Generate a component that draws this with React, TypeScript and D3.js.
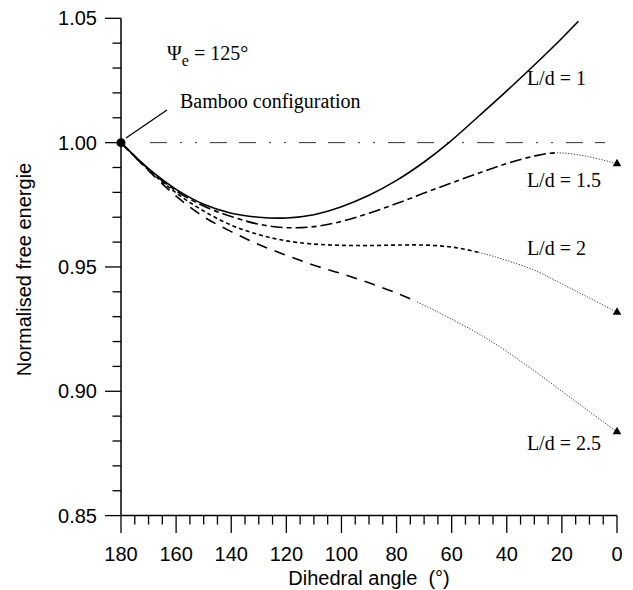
import React from "react";
import * as d3 from "d3";

// ---- data ----
const anglesLd1 = [180, 170, 160, 150, 140, 130, 120, 110, 100, 90, 80, 70, 61, 50, 40, 30, 20, 14];
const valuesLd1 = [1.0, 0.9895, 0.9812, 0.9752, 0.9716, 0.97, 0.9697, 0.971, 0.9742, 0.9788, 0.9848, 0.9922, 1.0, 1.0108, 1.0208, 1.0312, 1.042, 1.0488];

const anglesLd15 = [180, 170, 160, 150, 140, 130, 120, 110, 100, 90, 80, 70, 60, 50, 40, 30, 22, 11, 0];
const valuesLd15 = [1.0, 0.9893, 0.9806, 0.9745, 0.9703, 0.9672, 0.9658, 0.9662, 0.9683, 0.9716, 0.9755, 0.9797, 0.9838, 0.9878, 0.9916, 0.9946, 0.9959, 0.9945, 0.9915];

const anglesLd2 = [180, 170, 160, 150, 140, 130, 120, 110, 100, 90, 80, 70, 60, 50, 40, 30, 20, 10, 0];
const valuesLd2 = [1.0, 0.989, 0.9798, 0.9725, 0.9668, 0.963, 0.9605, 0.9592, 0.9587, 0.9586, 0.9588, 0.9588, 0.958, 0.9558, 0.9526, 0.9487, 0.9432, 0.9375, 0.9318];

const anglesLd25 = [180, 170, 160, 150, 140, 130, 120, 110, 100, 90, 80, 70, 60, 50, 40, 30, 20, 10, 0];
const valuesLd25 = [1.0, 0.9887, 0.9785, 0.9702, 0.9642, 0.959, 0.9547, 0.9507, 0.9473, 0.9436, 0.9395, 0.9346, 0.929, 0.923, 0.916, 0.9082, 0.9, 0.8918, 0.8837];

const seriesNames = ["L/d = 1", "L/d = 1.5", "L/d = 2", "L/d = 2.5"];
// angle below which each curve continues as a dotted extrapolation
const dottedFrom = [null, 22, 50, 73];
const labelAngles = [32.7, 32.7, 32.7, 32.7];
const labelValues = [1.0232, 0.9823, 0.9548, 0.8764];

const xMajorTicks = [180, 160, 140, 120, 100, 80, 60, 40, 20, 0];
const yMajorTicks = [0.85, 0.9, 0.95, 1.0, 1.05];
const referenceValue = 1.0;
const bambooAngle = 180;

const SANS = "'Liberation Sans', Arial, Helvetica, sans-serif";
const SERIF = "'Liberation Serif', 'Times New Roman', serif";

export default function App() {
  const x = d3.scaleLinear().domain([180, 0]).range([121, 617]);
  const y = d3.scaleLinear().domain([0.85, 1.05]).range([515.6, 18.3]);

  const series = [
    anglesLd1.map((a, i) => [a, valuesLd1[i]]),
    anglesLd15.map((a, i) => [a, valuesLd15[i]]),
    anglesLd2.map((a, i) => [a, valuesLd2[i]]),
    anglesLd25.map((a, i) => [a, valuesLd25[i]]),
  ];
  const dashes = [null, "12,4,5,4", "4,3", "11,8"];

  const line = d3
    .line<number[]>()
    .x((d) => x(d[0]))
    .y((d) => y(d[1]))
    .curve(d3.curveCatmullRom.alpha(0.5));

  const xMinor = d3.range(0, 181, 5).filter((v) => v % 20 !== 0);
  const yMinor = d3.range(85, 106, 1).map((v) => v / 100).filter((v) => Math.round(v * 100) % 5 !== 0);

  const [xl, xr] = x.range();
  const [yb, yt] = y.range();
  const tri = d3.symbol().type(d3.symbolTriangle).size(32)();

  return (
    <svg width={633} height={590} style={{ position: "absolute", left: 0, top: 0, background: "#fff" }}>
      <rect width={633} height={590} fill="#fff" />
      <defs>
        {series.map((s, i) =>
          dottedFrom[i] == null ? null : (
            <React.Fragment key={i}>
              <clipPath id={`main${i}`}>
                <rect x={0} y={0} width={x(dottedFrom[i] as number)} height={590} />
              </clipPath>
              <clipPath id={`tail${i}`}>
                <rect x={x(dottedFrom[i] as number)} y={0} width={633} height={590} />
              </clipPath>
            </React.Fragment>
          )
        )}
      </defs>

      {/* reference line */}
      <line
        x1={150}
        x2={605}
        y1={y(referenceValue)}
        y2={y(referenceValue)}
        stroke="#333"
        strokeWidth={1}
        strokeDasharray="17,13,2,13,2,13,17,12"
      />

      {/* curves */}
      {series.map((s, i) => {
        const d = line(s) || "";
        if (dottedFrom[i] == null) {
          return <path key={i} d={d} fill="none" stroke="#000" strokeWidth={1.6} />;
        }
        return (
          <g key={i}>
            <path
              d={d}
              fill="none"
              stroke="#000"
              strokeWidth={1.6}
              strokeDasharray={dashes[i] as string}
              clipPath={`url(#main${i})`}
            />
            <path
              d={d}
              fill="none"
              stroke="#222"
              strokeWidth={0.9}
              strokeDasharray="1.2,1.6"
              clipPath={`url(#tail${i})`}
            />
            <path
              d={tri}
              transform={`translate(${x(s[s.length - 1][0])},${y(s[s.length - 1][1])})`}
              fill="#000"
            />
          </g>
        );
      })}

      {/* axes */}
      <line x1={xl} x2={xl} y1={yt} y2={yb} stroke="#000" strokeWidth={1.5} />
      <line x1={xl} x2={xr} y1={yb} y2={yb} stroke="#000" strokeWidth={1.5} />
      {yMajorTicks.map((t) => (
        <g key={t}>
          <line x1={xl - 16} x2={xl} y1={y(t)} y2={y(t)} stroke="#000" strokeWidth={1.3} />
          <text x={97} y={y(t) + 7} textAnchor="end" fontFamily={SANS} fontSize={20} fill="#000">
            {t.toFixed(2)}
          </text>
        </g>
      ))}
      {yMinor.map((t) => (
        <line key={t} x1={xl - 8.5} x2={xl} y1={y(t)} y2={y(t)} stroke="#000" strokeWidth={1.3} />
      ))}
      {xMajorTicks.map((t) => (
        <g key={t}>
          <line x1={x(t)} x2={x(t)} y1={yb} y2={yb + 17.5} stroke="#000" strokeWidth={1.3} />
          <text x={x(t)} y={561} textAnchor="middle" fontFamily={SANS} fontSize={20} fill="#000">
            {t}
          </text>
        </g>
      ))}
      {xMinor.map((t) => (
        <line key={t} x1={x(t)} x2={x(t)} y1={yb} y2={yb + 9} stroke="#000" strokeWidth={1.3} />
      ))}

      {/* axis titles */}
      <text x={369} y={585} textAnchor="middle" fontFamily={SANS} fontSize={20} fill="#000" xmlSpace="preserve">
        Dihedral angle  (°)
      </text>
      <text
        transform="translate(31,269.5) rotate(-90)"
        textAnchor="middle"
        fontFamily={SANS}
        fontSize={20}
        fill="#000"
      >
        Normalised free energie
      </text>

      {/* bamboo configuration marker and callout */}
      <circle cx={x(bambooAngle)} cy={y(referenceValue)} r={4.5} fill="#000" />
      <line x1={126} y1={138} x2={167} y2={110} stroke="#000" strokeWidth={1.3} />
      <text x={180} y={108} fontFamily={SERIF} fontSize={20} fill="#000">
        Bamboo configuration
      </text>
      <text x={167} y={60} fontFamily={SERIF} fontSize={20} fill="#000">
        Ψ
        <tspan fontSize={16} dy={6}>e</tspan>
        <tspan dy={-6}> = 125°</tspan>
      </text>

      {/* series labels */}
      {seriesNames.map((n, i) => (
        <text key={n} x={x(labelAngles[i])} y={y(labelValues[i])} fontFamily={SERIF} fontSize={20} fill="#000">
          {n}
        </text>
      ))}
    </svg>
  );
}
